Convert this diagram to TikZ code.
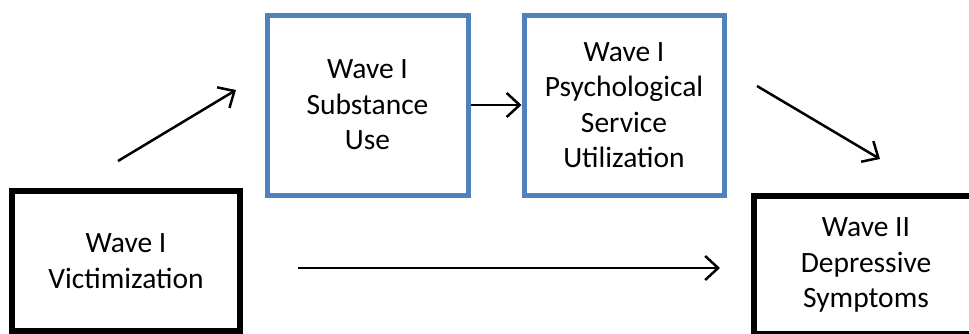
\documentclass[tikz,border=0pt]{standalone}
\usepackage{fontspec}
\setmainfont{Carlito}
\usetikzlibrary{arrows.meta}
\definecolor{boxblue}{RGB}{79,129,189}

\begin{document}
\begin{tikzpicture}[x=1pt, y=-1pt, >={Straight Barb[length=13pt,width=24pt]},
  every node/.style={rectangle, draw, align=center, inner sep=0pt,
  font=\fontsize{29.5}{35.5}\selectfont},
  outerbox/.style={line width=6pt, draw=black},
  innerbox/.style={line width=5pt, draw=boxblue},
  path/.style={->, line width=2.5pt}]
  \clip (0,0) rectangle (969,333);
  \useasboundingbox (0,0) rectangle (969,333);
  \node[outerbox, minimum width=228pt, minimum height=140pt] (vic) at (126, 261)
    {Wave I\\Victimization};
  \node[innerbox, minimum width=201pt, minimum height=180pt] (sub) at (367.5, 105)
    {Wave I\\Substance\\Use};
  \node[innerbox, minimum width=200pt, minimum height=180pt] (psy) at (624, 105)
    {Wave I\\Psychological\\Service\\Utilization};
  \node[outerbox, minimum width=224pt, minimum height=138pt] (dep) at (866, 265)
    {Wave II\\Depressive\\Symptoms};
  % free ends of the paths
  \coordinate (vs1) at (118, 161);
  \coordinate (vs2) at (236, 90);
  \coordinate (pd1) at (757, 86);
  \coordinate (pd2) at (880, 159);
  \coordinate (vd1) at (298, 268);
  \coordinate (vd2) at (720, 268);
  \draw[path] (vs1)--(vs2);
  \draw[path] (sub)--(psy);
  \draw[path] (pd1)--(pd2);
  \draw[path] (vd1)--(vd2);
\end{tikzpicture}
\end{document}
